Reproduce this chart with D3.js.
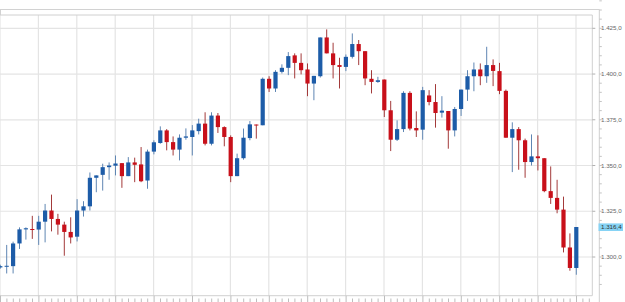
<!DOCTYPE html>
<html>
<head>
<meta charset="utf-8">
<script src="https://cdn.jsdelivr.net/npm/d3@7"></script>
<style>
    body { margin: 0; background: #fff; }
    svg { display: block; }
</style>
</head>
<body>
<div id="chart-area"></div>
<script>

// daily candles, oldest first
var openVals = [
    1.2943, 1.2948, 1.2950, 1.3074, 1.3151, 1.3153, 1.3150, 1.3193, 1.3254, 1.3208,
    1.3177, 1.3137, 1.3111, 1.3254, 1.3277, 1.3433, 1.3449, 1.3491, 1.3499, 1.3513,
    1.3442, 1.3517, 1.3506, 1.3418, 1.3576, 1.3623, 1.3692, 1.3628, 1.3587, 1.3652,
    1.3656, 1.3688, 1.3729, 1.3619, 1.3773, 1.3710, 1.3656, 1.3442, 1.3540, 1.3650,
    1.3724, 1.3720, 1.3974, 1.3921, 1.4012, 1.4034, 1.4102, 1.4061, 1.4025, 1.3948,
    1.3988, 1.4200, 1.4113, 1.4049, 1.4039, 1.4094, 1.4164, 1.4125, 1.3974, 1.3957,
    1.3970, 1.3802, 1.3641, 1.3699, 1.3897, 1.3705, 1.3696, 1.3883, 1.3847, 1.3789,
    1.3798, 1.3692, 1.3809, 1.3915, 1.3988, 1.4025, 1.3988, 1.4049, 1.4016, 1.3908,
    1.3652, 1.3699, 1.3638, 1.3519, 1.3550, 1.3540, 1.3360, 1.3323, 1.3259, 1.3052,
    1.2940
];
var highVals = [
    1.2958, 1.3066, 1.3084, 1.3162, 1.3162, 1.3225, 1.3225, 1.3290, 1.3341, 1.3236,
    1.3193, 1.3217, 1.3316, 1.3305, 1.3462, 1.3446, 1.3510, 1.3517, 1.3555, 1.3513,
    1.3546, 1.3543, 1.3601, 1.3587, 1.3638, 1.3714, 1.3699, 1.3659, 1.3670, 1.3703,
    1.3721, 1.3756, 1.3791, 1.3791, 1.3787, 1.3714, 1.3665, 1.3565, 1.3702, 1.3743,
    1.3724, 1.3981, 1.3988, 1.4021, 1.4053, 1.4120, 1.4113, 1.4113, 1.4058, 1.3990,
    1.4200, 1.4244, 1.4171, 1.4089, 1.4107, 1.4222, 1.4186, 1.4125, 1.4021, 1.3985,
    1.3970, 1.3853, 1.3747, 1.3906, 1.3906, 1.3796, 1.3930, 1.3912, 1.3945, 1.3879,
    1.3798, 1.3820, 1.3915, 1.4021, 1.4063, 1.4058, 1.4149, 1.4080, 1.4061, 1.3915,
    1.3736, 1.3710, 1.3647, 1.3670, 1.3665, 1.3540, 1.3495, 1.3422, 1.3330, 1.3129,
    1.3164
];
var lowVals = [
    1.2936, 1.2910, 1.2910, 1.3044, 1.3095, 1.3099, 1.3066, 1.3080, 1.3140, 1.3122,
    1.3007, 1.3074, 1.3085, 1.3221, 1.3254, 1.3354, 1.3363, 1.3422, 1.3446, 1.3378,
    1.3442, 1.3409, 1.3409, 1.3373, 1.3561, 1.3619, 1.3583, 1.3555, 1.3528, 1.3641,
    1.3555, 1.3670, 1.3610, 1.3610, 1.3678, 1.3605, 1.3409, 1.3442, 1.3532, 1.3638,
    1.3647, 1.3720, 1.3902, 1.3902, 1.4003, 1.3994, 1.3976, 1.3998, 1.3879, 1.3857,
    1.3981, 1.4113, 1.3976, 1.3921, 1.4016, 1.4085, 1.4049, 1.3939, 1.3894, 1.3952,
    1.3765, 1.3579, 1.3634, 1.3683, 1.3692, 1.3656, 1.3641, 1.3829, 1.3707, 1.3762,
    1.3592, 1.3659, 1.3771, 1.3853, 1.3906, 1.3939, 1.3952, 1.3934, 1.3890, 1.3652,
    1.3464, 1.3477, 1.3433, 1.3500, 1.3473, 1.3354, 1.3290, 1.3239, 1.3025, 1.2925,
    1.2903
];
var closeVals = [
    1.2950, 1.2952, 1.3074, 1.3151, 1.3157, 1.3148, 1.3193, 1.3254, 1.3208, 1.3177,
    1.3137, 1.3107, 1.3254, 1.3277, 1.3433, 1.3446, 1.3491, 1.3500, 1.3511, 1.3442,
    1.3517, 1.3504, 1.3414, 1.3576, 1.3627, 1.3692, 1.3628, 1.3587, 1.3652, 1.3659,
    1.3692, 1.3729, 1.3619, 1.3773, 1.3710, 1.3656, 1.3442, 1.3540, 1.3652, 1.3725,
    1.3720, 1.3974, 1.3921, 1.4012, 1.4034, 1.4098, 1.4061, 1.4021, 1.3948, 1.3990,
    1.4200, 1.4113, 1.4049, 1.4039, 1.4094, 1.4164, 1.4125, 1.3976, 1.3957, 1.3966,
    1.3802, 1.3641, 1.3699, 1.3897, 1.3702, 1.3692, 1.3912, 1.3847, 1.3787, 1.3800,
    1.3692, 1.3809, 1.3915, 1.3988, 1.4025, 1.3988, 1.4049, 1.4017, 1.3908, 1.3652,
    1.3699, 1.3638, 1.3519, 1.3550, 1.3540, 1.3360, 1.3323, 1.3259, 1.3052, 1.2940,
    1.3164
];

var yTickValues = [1.300, 1.325, 1.350, 1.375, 1.400, 1.425];
var lastPrice = 1.3164;


/*
 * CandleChart - Object constructor function
 */

CandleChart = function(_parentElement, _data){
    this.parentElement = _parentElement;
    this.data = _data;

    this.initVis();
}

CandleChart.prototype.initVis = function(){
    var vis = this;

    vis.width = 625;
    vis.height = 302;

    // plot box
    vis.plotRight = 592.3;
    vis.plotTop = 15;
    vis.plotBottom = 295.7;
    vis.axisX = 599.3;

    vis.svg = d3.select("#" + vis.parentElement).append("svg")
        .attr("width", vis.width)
        .attr("height", vis.height);

    vis.x = d3.scaleLinear()
        .domain([0, 90])
        .range([0, 576]);

    vis.y = d3.scaleLinear()
        .domain([1.300, 1.425])
        .range([257.0, 28.3]);

    var loc = d3.formatLocale({ decimal: ",", thousands: ".", grouping: [3], currency: ["", ""] });
    var f = loc.format(",.1f");
    vis.fmt = function(v) { return f(v * 1000); };

    // top band
    vis.svg.append("line")
        .attr("x1", 0).attr("x2", vis.axisX)
        .attr("y1", 9.5).attr("y2", 9.5)
        .attr("stroke", "#d2d2d2");
    vis.svg.append("line")
        .attr("x1", 0.5).attr("x2", 0.5)
        .attr("y1", 9.5).attr("y2", vis.plotTop)
        .attr("stroke", "#d2d2d2");

    // grid
    var xGrid = d3.range(0, 91, 6);
    vis.svg.selectAll(".vgrid")
        .data(xGrid)
        .enter().append("line")
        .attr("class", "vgrid")
        .attr("x1", function(d) { return vis.x(d); })
        .attr("x2", function(d) { return vis.x(d); })
        .attr("y1", vis.plotTop)
        .attr("y2", vis.plotBottom)
        .attr("stroke", "#e4e4e4")
        .attr("stroke-width", 1.2);

    vis.svg.selectAll(".hgrid")
        .data(yTickValues)
        .enter().append("line")
        .attr("class", "hgrid")
        .attr("x1", 0)
        .attr("x2", vis.plotRight)
        .attr("y1", function(d) { return vis.y(d); })
        .attr("y2", function(d) { return vis.y(d); })
        .attr("stroke", "#e4e4e4")
        .attr("stroke-width", 1.2);

    // plot border
    vis.svg.append("path")
        .attr("d", "M0," + vis.plotTop + "H" + vis.plotRight + "V" + vis.plotBottom + "H0")
        .attr("fill", "none")
        .attr("stroke", "#d0d0d0");

    // right axis line
    vis.svg.append("line")
        .attr("x1", vis.axisX).attr("x2", vis.axisX)
        .attr("y1", 9.5).attr("y2", vis.height)
        .attr("stroke", "#cfcfcf");

    // bottom ticks
    var xTicks = d3.range(0, 93);
    vis.svg.selectAll(".xtick")
        .data(xTicks)
        .enter().append("line")
        .attr("class", "xtick")
        .attr("x1", function(d) { return vis.x(d) + 0.5; })
        .attr("x2", function(d) { return vis.x(d) + 0.5; })
        .attr("y1", function(d) { return d % 6 === 0 ? vis.plotBottom : 298.5; })
        .attr("y2", vis.height)
        .attr("stroke", "#bdbdbd");

    // y minor ticks
    var yMinor = d3.range(1.285, 1.44, 0.005);
    vis.svg.selectAll(".ytick")
        .data(yMinor)
        .enter().append("line")
        .attr("class", "ytick")
        .attr("x1", vis.axisX)
        .attr("x2", vis.axisX + 2.5)
        .attr("y1", function(d) { return vis.y(d); })
        .attr("y2", function(d) { return vis.y(d); })
        .attr("stroke", "#c4c4c4");

    vis.svg.selectAll(".ymajor")
        .data(yTickValues)
        .enter().append("line")
        .attr("class", "ymajor")
        .attr("x1", vis.plotRight)
        .attr("x2", vis.plotRight + 3)
        .attr("y1", function(d) { return vis.y(d); })
        .attr("y2", function(d) { return vis.y(d); })
        .attr("stroke", "#b0b0b0");

    vis.svg.selectAll(".ylabel")
        .data(yTickValues)
        .enter().append("text")
        .attr("class", "ylabel")
        .attr("x", 601)
        .attr("y", function(d) { return vis.y(d); })
        .attr("dy", "0.35em")
        .attr("font-family", "Liberation Sans, Arial, sans-serif")
        .attr("font-size", "6.2px")
        .attr("fill", "#666")
        .text(function(d) { return vis.fmt(d); });

    vis.wrangleData();
}

CandleChart.prototype.wrangleData = function(){
    var vis = this;

    vis.candles = vis.data.open.map(function(o, i) {
        return {
            i: i,
            open: o,
            high: vis.data.high[i],
            low: vis.data.low[i],
            close: vis.data.close[i],
            up: vis.data.close[i] >= o
        };
    });

    vis.updateVis();
}

CandleChart.prototype.updateVis = function(){
    var vis = this;

    var bodyW = 4.2;

    var g = vis.svg.selectAll(".candle")
        .data(vis.candles)
        .enter().append("g")
        .attr("class", "candle");

    g.append("line")
        .attr("x1", function(d) { return vis.x(d.i) + 0.3; })
        .attr("x2", function(d) { return vis.x(d.i) + 0.3; })
        .attr("y1", function(d) { return vis.y(d.high); })
        .attr("y2", function(d) { return vis.y(d.low); })
        .attr("stroke", function(d) { return d.up ? "#5f86b3" : "#a33a3a"; })
        .attr("stroke-width", 1);

    g.append("rect")
        .attr("x", function(d) { return vis.x(d.i) + 0.3 - bodyW / 2; })
        .attr("y", function(d) { return vis.y(Math.max(d.open, d.close)); })
        .attr("width", bodyW)
        .attr("height", function(d) {
            return Math.max(1, vis.y(Math.min(d.open, d.close)) - vis.y(Math.max(d.open, d.close)));
        })
        .attr("fill", function(d) { return d.up ? "#1d5ca8" : "#c8101a"; });

    // last price marker
    var ly = vis.y(lastPrice);
    vis.svg.append("rect")
        .attr("x", 598.5)
        .attr("y", ly - 3.6)
        .attr("width", 24.5)
        .attr("height", 7.6)
        .attr("fill", "#86d3f5");

    vis.svg.append("text")
        .attr("x", 601)
        .attr("y", ly)
        .attr("dy", "0.35em")
        .attr("font-family", "Liberation Sans, Arial, sans-serif")
        .attr("font-size", "6.2px")
        .attr("fill", "#333")
        .text(vis.fmt(lastPrice));
}

var candleChart = new CandleChart("chart-area", {
    open: openVals,
    high: highVals,
    low: lowVals,
    close: closeVals
});

</script>
</body>
</html>
